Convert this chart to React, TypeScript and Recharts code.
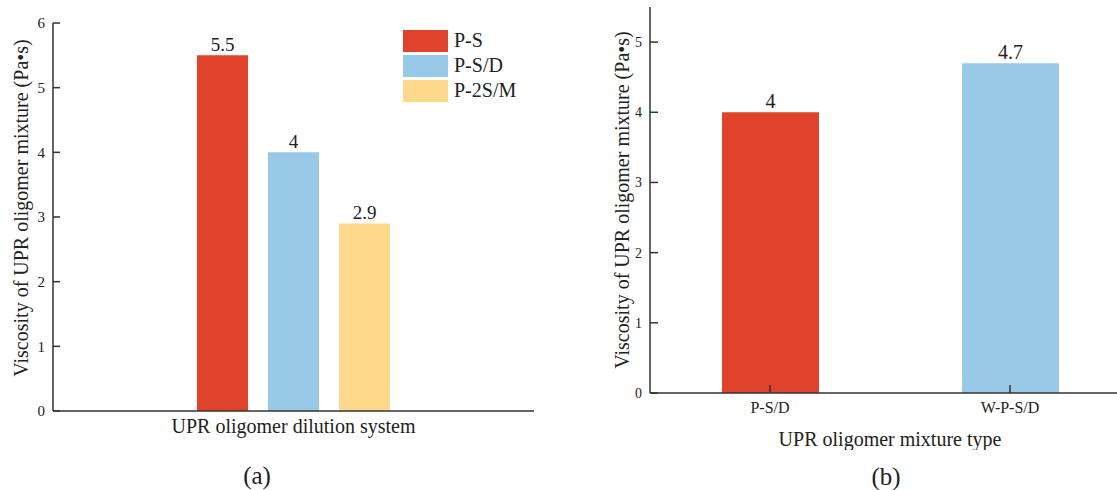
import { BarChart, Bar, XAxis, YAxis, Legend, LabelList, Cell } from 'recharts';

// (a) dilution systems
const dilutionSystems = ['P-S', 'P-S/D', 'P-2S/M'];
const dilutionViscosity = [5.5, 4, 2.9];
const leftTicks = [0, 1, 2, 3, 4, 5, 6];

// (b) mixture types
const mixtureTypes = ['P-S/D', 'W-P-S/D'];
const mixtureViscosity = [4, 4.7];
const rightTicks = [0, 1, 2, 3, 4, 5];

const seriesColors = ['#e0432b', '#98c9e7', '#fed88b'];
const FONT = '"Liberation Serif", "Times New Roman", serif';
const AXIS = '#333';
const TEXT = '#222';

const leftRow: Record<string, string | number> = { name: '' };
dilutionSystems.forEach((_, i) => {
  leftRow[`s${i}`] = dilutionViscosity[i];
});
const leftData = [leftRow];

const rightData = mixtureTypes.map((name, i) => ({ name, value: mixtureViscosity[i] }));

const axisLine = { stroke: AXIS, strokeWidth: 1.5 };

function LegendBox() {
  return (
    <div style={{ fontFamily: FONT }}>
      {dilutionSystems.map((s, i) => (
        <div key={s} style={{ display: 'flex', alignItems: 'center', height: 25 }}>
          <span style={{ width: 45, height: 22, background: seriesColors[i], marginRight: 6 }} />
          <span style={{ fontSize: 20, color: TEXT }}>{s}</span>
        </div>
      ))}
    </div>
  );
}

export default function App() {
  return (
    <div
      style={{
        position: 'absolute',
        left: 0,
        top: 0,
        width: 1117,
        height: 490,
        overflow: 'hidden',
        background: '#fff',
        fontFamily: FONT,
      }}
    >
      <style>{`svg text, svg tspan { font-family: "Liberation Serif", "Times New Roman", serif !important; }`}</style>
      <div style={{ position: 'absolute', left: 0, top: 0 }}>
        <BarChart
          width={560}
          height={440}
          data={leftData}
          barGap={20}
          margin={{ top: 23, right: 26, left: 13, bottom: 7 }}
          style={{ fontFamily: FONT }}
        >
          <XAxis
            dataKey="name"
            height={22}
            tickSize={-8}
            tick={false}
            tickLine={axisLine}
            axisLine={axisLine}
            label={{
              value: 'UPR oligomer dilution system',
              position: 'insideBottom',
              offset: 0,
              style: { fontSize: 20, fill: TEXT },
            }}
          />
          <XAxis xAxisId="top" orientation="top" dataKey="name" height={0} tick={false} tickLine={false} axisLine={axisLine} />
          <YAxis
            domain={[0, 6]}
            ticks={leftTicks}
            interval={0}
            width={40}
            tickSize={-7}
            tickMargin={15}
            tickLine={axisLine}
            axisLine={axisLine}
            tick={{ fontSize: 15, fill: TEXT }}
            label={{
              value: 'Viscosity of UPR oligomer mixture (Pa•s)',
              angle: -90,
              position: 'insideLeft',
              offset: 8,
              dy: -9,
              style: { textAnchor: 'middle', fontSize: 20, fill: TEXT },
            }}
          />
          <YAxis yAxisId="frame" orientation="right" domain={[0, 6]} width={0} tick={false} tickLine={false} axisLine={axisLine} />
          <Legend
            layout="horizontal"
            verticalAlign="middle"
            align="center"
            content={<LegendBox />}
            wrapperStyle={{ top: 28, left: 403, width: 'auto' }}
          />
          {dilutionSystems.map((s, i) => (
            <Bar key={s} dataKey={`s${i}`} name={s} fill={seriesColors[i]} barSize={51} isAnimationActive={false}>
              <LabelList dataKey={`s${i}`} position="top" offset={4} style={{ fontSize: 19, fill: TEXT }} />
            </Bar>
          ))}
        </BarChart>
      </div>

      <div style={{ position: 'absolute', left: 560, top: 0 }}>
        <BarChart
          width={600}
          height={450}
          data={rightData}
          margin={{ top: 7, right: 30, left: 50, bottom: 0 }}
          style={{ fontFamily: FONT }}
        >
          <XAxis
            dataKey="name"
            height={57}
            tickSize={-8}
            tickMargin={17}
            interval={0}
            tickLine={axisLine}
            axisLine={axisLine}
            tick={{ fontSize: 16, fill: TEXT }}
            label={{
              value: 'UPR oligomer mixture type',
              position: 'insideBottom',
              offset: 4,
              style: { fontSize: 20, fill: TEXT },
            }}
          />
          <XAxis xAxisId="top" orientation="top" dataKey="name" height={0} tick={false} tickLine={false} axisLine={axisLine} />
          <YAxis
            domain={[0, 5.5]}
            ticks={rightTicks}
            interval={0}
            width={40}
            tickSize={-8}
            tickMargin={16}
            tickLine={axisLine}
            axisLine={axisLine}
            tick={{ fontSize: 14, fill: TEXT }}
            label={{
              value: 'Viscosity of UPR oligomer mixture (Pa•s)',
              angle: -90,
              position: 'insideLeft',
              offset: 12,
              style: { textAnchor: 'middle', fontSize: 20, fill: TEXT },
            }}
          />
          <Bar dataKey="value" barSize={97} isAnimationActive={false}>
            {rightData.map((d, i) => (
              <Cell key={d.name} fill={seriesColors[i]} />
            ))}
            <LabelList dataKey="value" position="top" offset={4} style={{ fontSize: 20, fill: TEXT }} />
          </Bar>
        </BarChart>
      </div>

      <div style={{ position: 'absolute', left: 257, top: 476, transform: 'translate(-50%, -50%)', fontSize: 25, color: TEXT }}>
        (a)
      </div>
      <div style={{ position: 'absolute', left: 886, top: 477, transform: 'translate(-50%, -50%)', fontSize: 25, color: TEXT }}>
        (b)
      </div>
    </div>
  );
}
